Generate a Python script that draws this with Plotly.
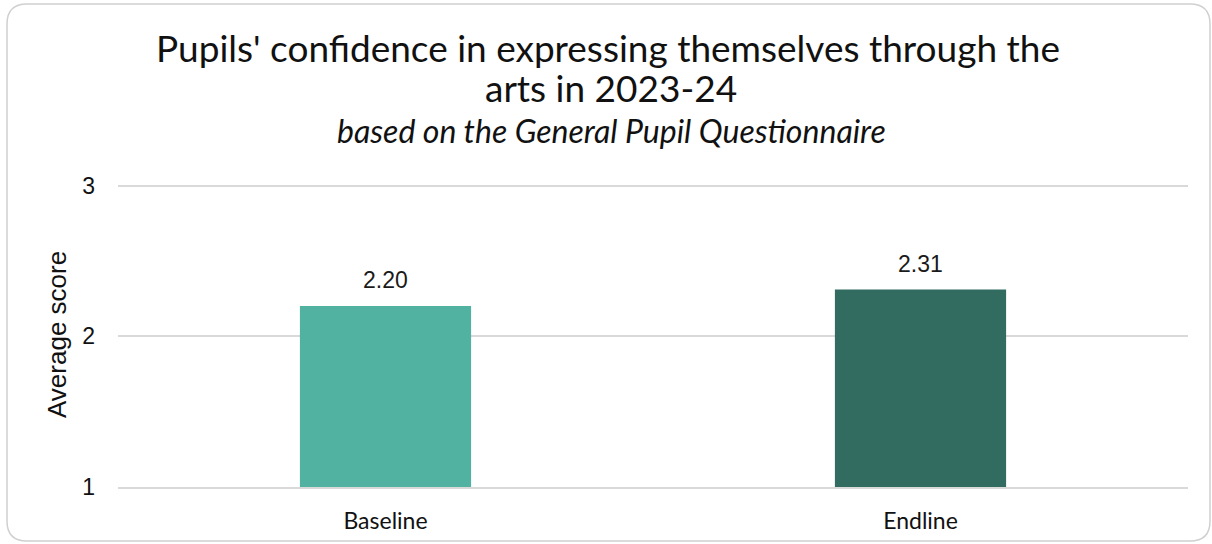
import plotly.graph_objects as go

# Chart data
categories = ["Baseline", "Endline"]
scores = [2.20, 2.31]
score_labels = ["2.20", "2.31"]
bar_colors = ["#52B2A2", "#326B60"]
y_ticks = [1, 2, 3]

title_line1 = "Pupils' confidence in expressing themselves through the"
title_line2 = "arts in 2023-24"
subtitle = "based on the General Pupil Questionnaire"
y_title = "Average score"

# Canvas and plot-area geometry (pixels)
W, H = 1212, 544
L, R, T, B = 118, 24, 184, 57
PW, PH = W - L - R, H - T - B


def px_x(x):
    return (x - L) / PW


def px_y(y):
    return (H - B - y) / PH


fig = go.Figure()
fig.add_trace(go.Bar(
    x=categories,
    y=scores,
    marker=dict(color=bar_colors, line=dict(width=0)),
    width=0.32,
    hoverinfo="skip",
))

annotations = []
# value labels above the bars
for cat, val, lab in zip(categories, scores, score_labels):
    annotations.append(dict(
        x=cat, y=val, xref="x", yref="y", text=lab, showarrow=False,
        yanchor="bottom", yshift=11,
        font=dict(family="Liberation Sans, Arial", size=23, color="#1a1a1a"),
    ))

title_font = dict(family="Lato", size=37, color="#111111")
annotations += [
    dict(x=px_x(608), y=px_y(47), xref="paper", yref="paper", text=title_line1,
         showarrow=False, xanchor="center", yanchor="middle", font=title_font),
    dict(x=px_x(611), y=px_y(88), xref="paper", yref="paper", text=title_line2,
         showarrow=False, xanchor="center", yanchor="middle", font=title_font),
    dict(x=px_x(611), y=px_y(130), xref="paper", yref="paper",
         text="<i>" + subtitle + "</i>", showarrow=False,
         xanchor="center", yanchor="middle",
         font=dict(family="Lato", size=32, color="#111111")),
    dict(x=px_x(57), y=px_y(335), xref="paper", yref="paper", text=y_title,
         showarrow=False, textangle=-90, xanchor="center", yanchor="middle",
         font=dict(family="Liberation Sans, Arial", size=26, color="#111111")),
]

# rounded outer frame
x0, x1 = px_x(7), px_x(1210)
y0, y1 = px_y(541), px_y(4)
rx, ry = 20 / PW, 20 / PH
frame_path = (
    f"M {x0 + rx},{y1} L {x1 - rx},{y1} Q {x1},{y1} {x1},{y1 - ry} "
    f"L {x1},{y0 + ry} Q {x1},{y0} {x1 - rx},{y0} "
    f"L {x0 + rx},{y0} Q {x0},{y0} {x0},{y0 + ry} "
    f"L {x0},{y1 - ry} Q {x0},{y1} {x0 + rx},{y1} Z"
)

fig.update_layout(
    width=W, height=H,
    margin=dict(l=L, r=R, t=T, b=B, pad=0),
    paper_bgcolor="white", plot_bgcolor="white",
    showlegend=False,
    annotations=annotations,
    shapes=[dict(type="path", path=frame_path, xref="paper", yref="paper",
                 line=dict(color="#D0D0D0", width=1.5), layer="below")],
    xaxis=dict(
        automargin=False,
        showgrid=False, showline=True, linecolor="#D9D9D9", linewidth=2,
        ticks="", ticklabelstandoff=12,
        tickfont=dict(family="Lato", size=23, color="#111111"),
    ),
    yaxis=dict(
        automargin=False,
        range=[1, 3.01], tickvals=y_ticks, ticktext=[str(v) for v in y_ticks],
        showgrid=True, gridcolor="#D9D9D9", gridwidth=2,
        zeroline=False, showline=False, ticks="", ticklabelstandoff=22,
        tickfont=dict(family="Liberation Sans, Arial", size=23, color="#111111"),
    ),
)

fig.write_html("out.html")
